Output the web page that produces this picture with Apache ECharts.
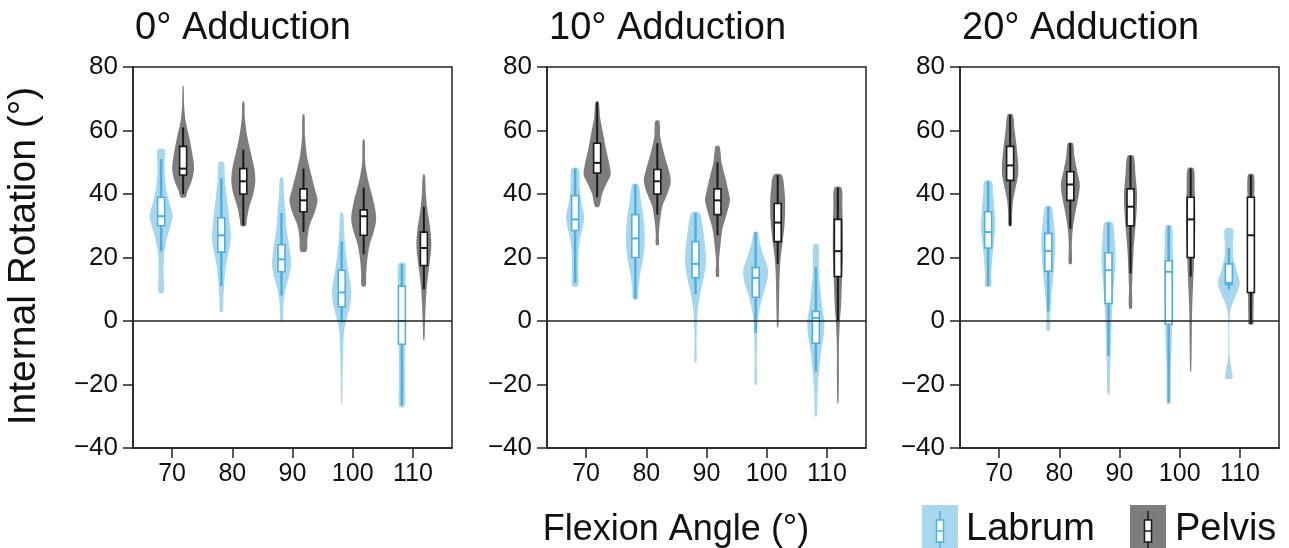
<!DOCTYPE html>
<html lang="en">
<head>
	<meta charset="UTF-8">
	<title>Internal rotation by flexion angle</title>
	<script src="https://cdn.jsdelivr.net/npm/echarts@6/dist/echarts.min.js"></script>
	<style>
		html, body { margin: 0; padding: 0; background: #fff; }
		#main { width: 1289px; height: 548px; }
	</style>
</head>
<body>
<div id="main"></div>
<script>
	// categories
	const flexion = [70, 80, 90, 100, 110];
	const panels = ['0° Adduction', '10° Adduction', '20° Adduction'];
	const groups = ['Labrum', 'Pelvis'];

	// box stats per flexion angle: [whisker low, q1, median, q3, whisker high]
	const labrumBox0 = [[22, 30, 33, 39, 51], [11, 21.7, 27, 32.5, 45], [8, 15.5, 19.4, 24, 34], [-0.5, 4.5, 9, 16, 25], [-26.7, -7.3, 0, 11, 18]];
	const pelvisBox0 = [[40, 46, 48, 55, 61], [30, 40, 44, 48, 54], [28, 34.4, 38, 41.6, 48], [21, 27, 33, 35, 42], [10, 17.5, 23, 28, 36]];
	const labrumBox10 = [[12, 28.5, 32, 39.5, 48], [7, 20, 26, 33.5, 43], [8.4, 13.6, 18, 25, 34], [-3.7, 7.5, 13.6, 16.8, 28], [-16, -7, 1, 3, 17]];
	const pelvisBox10 = [[39, 46.6, 49.8, 56, 69], [33.5, 40, 44, 47.7, 56], [27, 33.5, 38, 41.6, 50], [18, 25, 31, 37, 46], [0, 14, 22, 32, 42]];
	const labrumBox20 = [[11, 23, 28, 34.4, 44], [3, 15.7, 22, 27.6, 36], [-11, 5.5, 16, 21.5, 31], [-25.7, -1, 15.5, 19, 30], [10, 11.5, 12, 18, 23]];
	const pelvisBox20 = [[30, 44.3, 49, 55, 65], [29, 38, 43, 47, 56], [15, 30, 36, 41.6, 52], [14, 20, 32, 39, 48], [-1, 9, 27, 39, 46]];

	// violin outlines: [rotation value, relative density] from top to bottom
	const labrumDensity0 = [
		[[54, 7], [48, 7], [42, 10], [37, 17], [33, 23], [29, 17], [25, 10], [21, 6], [15, 5], [9, 5]],
		[[50, 5], [45, 7], [40, 10], [35, 14], [30, 17], [26, 19], [22, 15], [17, 9], [12, 6], [7, 4], [3, 3]],
		[[45, 3], [40, 5], [34, 8], [28, 11], [23, 16], [18, 19], [14, 15], [10, 8], [6, 4], [2, 3], [0, 2]],
		[[34, 3], [28, 5], [22, 8], [16, 13], [10, 19], [6, 18], [2, 12], [-3, 5], [-10, 3], [-18, 2], [-26, 1]],
		[[18, 7], [10, 7], [0, 7], [-10, 6], [-20, 6], [-27, 5]]
	];
	const pelvisDensity0 = [
		[[74, 1], [68, 2], [63, 5], [58, 12], [53, 18], [48, 22], [44, 17], [41, 9], [39, 5]],
		[[69, 2], [64, 3], [58, 8], [53, 15], [48, 22], [44, 24], [40, 20], [36, 12], [32, 7], [30, 5]],
		[[65, 2], [58, 3], [52, 7], [47, 14], [42, 22], [38, 28], [34, 22], [30, 12], [26, 8], [22, 6]],
		[[57, 2], [50, 3], [45, 8], [40, 16], [36, 22], [32, 25], [28, 20], [24, 12], [19, 7], [15, 5], [11, 4]],
		[[46, 2], [40, 4], [35, 7], [30, 12], [24, 15], [19, 12], [14, 8], [9, 5], [3, 3], [-2, 2], [-6, 1]]
	];
	const labrumDensity10 = [
		[[48, 7], [42, 9], [37, 13], [33, 18], [30, 16], [26, 10], [22, 7], [16, 6], [11, 6]],
		[[43, 6], [38, 11], [33, 16], [26, 19], [20, 16], [15, 10], [10, 6], [7, 5]],
		[[34, 8], [29, 15], [24, 19], [19, 21], [14, 17], [9, 10], [4, 5], [0, 3], [-6, 2], [-13, 2]],
		[[28, 4], [24, 9], [20, 17], [16, 25], [12, 22], [8, 14], [3, 7], [0, 4], [-5, 3], [-12, 2], [-20, 2]],
		[[24, 5], [16, 6], [10, 9], [4, 13], [0, 17], [-4, 16], [-8, 12], [-13, 8], [-18, 5], [-24, 3], [-30, 2]]
	];
	const pelvisDensity10 = [
		[[69, 3], [64, 6], [59, 12], [54, 18], [49, 25], [46, 27], [43, 18], [40, 10], [36, 4]],
		[[63, 4], [58, 6], [53, 13], [48, 22], [44, 27], [40, 20], [36, 10], [31, 5], [27, 3], [24, 3]],
		[[55, 4], [50, 8], [45, 16], [40, 23], [38, 25], [34, 19], [29, 10], [24, 6], [19, 3], [14, 3]],
		[[46, 8], [42, 13], [37, 15], [31, 14], [25, 10], [20, 6], [15, 4], [8, 3], [0, 2], [-2, 1]],
		[[42, 7], [36, 9], [28, 10], [20, 10], [12, 8], [4, 6], [0, 4], [-8, 2], [-18, 2], [-26, 1]]
	];
	const labrumDensity20 = [
		[[44, 7], [40, 10], [34, 13], [29, 14], [24, 11], [19, 8], [14, 6], [11, 6]],
		[[36, 6], [31, 11], [26, 14], [21, 13], [16, 11], [11, 8], [6, 5], [2, 4], [-3, 3]],
		[[31, 8], [26, 12], [20, 14], [14, 12], [8, 9], [2, 7], [-5, 5], [-12, 4], [-18, 3], [-23, 2]],
		[[30, 6], [24, 8], [16, 9], [8, 8], [0, 7], [-8, 6], [-16, 4], [-26, 3]],
		[[29, 8], [24, 8], [20, 9], [16, 15], [12, 22], [8, 14], [5, 6], [2, 2], [-8, 1], [-12, 2], [-15, 5], [-18, 7]]
	];
	const pelvisDensity20 = [
		[[65, 5], [60, 9], [55, 13], [50, 16], [46, 16], [42, 11], [38, 6], [34, 4], [30, 3]],
		[[56, 5], [52, 8], [47, 14], [43, 19], [39, 16], [34, 10], [29, 5], [24, 3], [18, 3]],
		[[52, 6], [46, 10], [40, 13], [34, 12], [28, 9], [22, 6], [15, 4], [10, 3], [4, 3]],
		[[48, 6], [42, 8], [36, 9], [28, 9], [20, 7], [12, 5], [4, 3], [-8, 2], [-16, 1]],
		[[46, 6], [36, 6], [24, 6], [12, 6], [0, 5], [-1, 5]]
	];

	const yTicks = [-40, -20, 0, 20, 40, 60, 80];

	const FONT = 'Liberation Sans, Arial, Helvetica, sans-serif';
	const LABRUM_FILL = '#a7d7ec', LABRUM_LINE = '#4fafe0';
	const PELVIS_FILL = '#7d7d7d', PELVIS_LINE = '#1a1a1a';
	const DODGE = 11;     // px between the tick and each violin
	const BOX_W = 7;
	const gridLefts = [133, 547, 960];

	const boxes = [[labrumBox0, pelvisBox0], [labrumBox10, pelvisBox10], [labrumBox20, pelvisBox20]];
	const densities = [[labrumDensity0, pelvisDensity0], [labrumDensity10, pelvisDensity10], [labrumDensity20, pelvisDensity20]];

	function violinSeries(p, g) {
		const stats = boxes[p][g], shapes = densities[p][g];
		const fill = g === 0 ? LABRUM_FILL : PELVIS_FILL;
		const stroke = g === 0 ? LABRUM_LINE : PELVIS_LINE;
		const off = g === 0 ? -DODGE : DODGE;
		const s = {
			type: 'custom',
			name: groups[g],
			xAxisIndex: p,
			yAxisIndex: p,
			data: flexion.map((f, i) => [f, i]),
			encode: { x: 0 },
			renderItem: (params, api) => {
				const i = api.value(1);
				const cx = api.coord([api.value(0), 0])[0] + off;
				const y = v => api.coord([api.value(0), v])[1];
				const prof = shapes[i];
				const left = prof.map(([v, d]) => [cx - d / 2, y(v)]);
				const right = prof.slice().reverse().map(([v, d]) => [cx + d / 2, y(v)]);
				const b = stats[i];
				return {
					type: 'group',
					children: [
						{ type: 'polygon', shape: { points: left.concat(right), smooth: 0.3 }, style: { fill: fill } },
						{ type: 'line', shape: { x1: cx, y1: y(b[0]), x2: cx, y2: y(b[4]) }, style: { stroke: stroke, lineWidth: g === 0 ? 2.5 : 2 } },
						{ type: 'rect', shape: { x: cx - BOX_W / 2, y: y(b[3]), width: BOX_W, height: y(b[1]) - y(b[3]) }, style: { fill: '#fff', stroke: stroke, lineWidth: 1.6 } },
						{ type: 'line', shape: { x1: cx - BOX_W / 2, y1: y(b[2]), x2: cx + BOX_W / 2, y2: y(b[2]) }, style: { stroke: stroke, lineWidth: 2 } }
					]
				};
			}
		};
		if (g === 1) {
			s.markLine = {
				silent: true, symbol: 'none', label: { show: false },
				lineStyle: { color: '#222', width: 1.5, type: 'solid' },
				data: [{ yAxis: 0 }]
			};
		}
		return s;
	}

	function legendIcon(x, fill, stroke) {
		return {
			type: 'group', x: x, y: 505,
			children: [
				{ type: 'rect', shape: { x: 0, y: 0, width: 36, height: 45 }, style: { fill: fill } },
				{ type: 'line', shape: { x1: 18, y1: 6, x2: 18, y2: 45 }, style: { stroke: stroke, lineWidth: 1.5 } },
				{ type: 'rect', shape: { x: 14.5, y: 15, width: 7, height: 22 }, style: { fill: '#fff', stroke: stroke, lineWidth: 1.5 } },
				{ type: 'line', shape: { x1: 14.5, y1: 26, x2: 21.5, y2: 26 }, style: { stroke: stroke, lineWidth: 1.5 } }
			]
		};
	}

	const chart = echarts.init(document.getElementById('main'), null, { renderer: 'canvas' });

	const option = {
		backgroundColor: '#fff',
		animation: false,
		textStyle: { fontFamily: FONT },
		title: panels.map((t, p) => ({
			text: t, left: gridLefts[p] + 2, top: 10, padding: 0,
			textStyle: { fontSize: 38, fontWeight: 'normal', color: '#111', fontFamily: FONT }
		})),
		grid: panels.map((t, p) => ({
			left: gridLefts[p], top: 67, width: 319, height: 381,
			show: true, borderColor: '#222', borderWidth: 1.5, backgroundColor: 'transparent'
		})),
		xAxis: panels.map((t, p) => ({
			type: 'value', gridIndex: p, min: 63.5, max: 116.5,
			axisLine: { show: true, onZero: false, lineStyle: { color: '#222', width: 1.5 } },
			axisTick: { show: true, length: 10, lineStyle: { color: '#222', width: 1.5 }, customValues: flexion },
			axisLabel: { fontSize: 25, color: '#111', margin: 14, fontFamily: FONT, customValues: flexion },
			splitLine: { show: false }
		})),
		yAxis: panels.map((t, p) => ({
			type: 'value', gridIndex: p, min: -40, max: 80, interval: 20,
			axisLine: { show: true, onZero: false, lineStyle: { color: '#222', width: 1.5 } },
			axisTick: { show: true, length: 10, lineStyle: { color: '#222', width: 1.5 } },
			axisLabel: {
				fontSize: 26, color: '#111', margin: 15, fontFamily: FONT,
				formatter: v => yTicks.includes(v) ? String(v).replace('-', '\u2212') : ''
			},
			splitLine: { show: false }
		})),
		series: [0, 1, 2].flatMap(p => [violinSeries(p, 0), violinSeries(p, 1)]),
		graphic: [
			{
				type: 'text', x: 24, y: 256, rotation: Math.PI / 2,
				style: { text: 'Internal Rotation (°)', font: '39px ' + FONT, fill: '#111', align: 'center', verticalAlign: 'middle' }
			},
			{
				type: 'text', x: 676, y: 530,
				style: { text: 'Flexion Angle (°)', font: '36px ' + FONT, fill: '#111', align: 'center', verticalAlign: 'middle' }
			},
			legendIcon(922, LABRUM_FILL, LABRUM_LINE),
			{
				type: 'text', x: 966, y: 530,
				style: { text: groups[0], font: '38px ' + FONT, fill: '#111', align: 'left', verticalAlign: 'middle' }
			},
			legendIcon(1130, PELVIS_FILL, PELVIS_LINE),
			{
				type: 'text', x: 1175, y: 530,
				style: { text: groups[1], font: '38px ' + FONT, fill: '#111', align: 'left', verticalAlign: 'middle' }
			}
		]
	};

	chart.setOption(option);
</script>
</body>
</html>
